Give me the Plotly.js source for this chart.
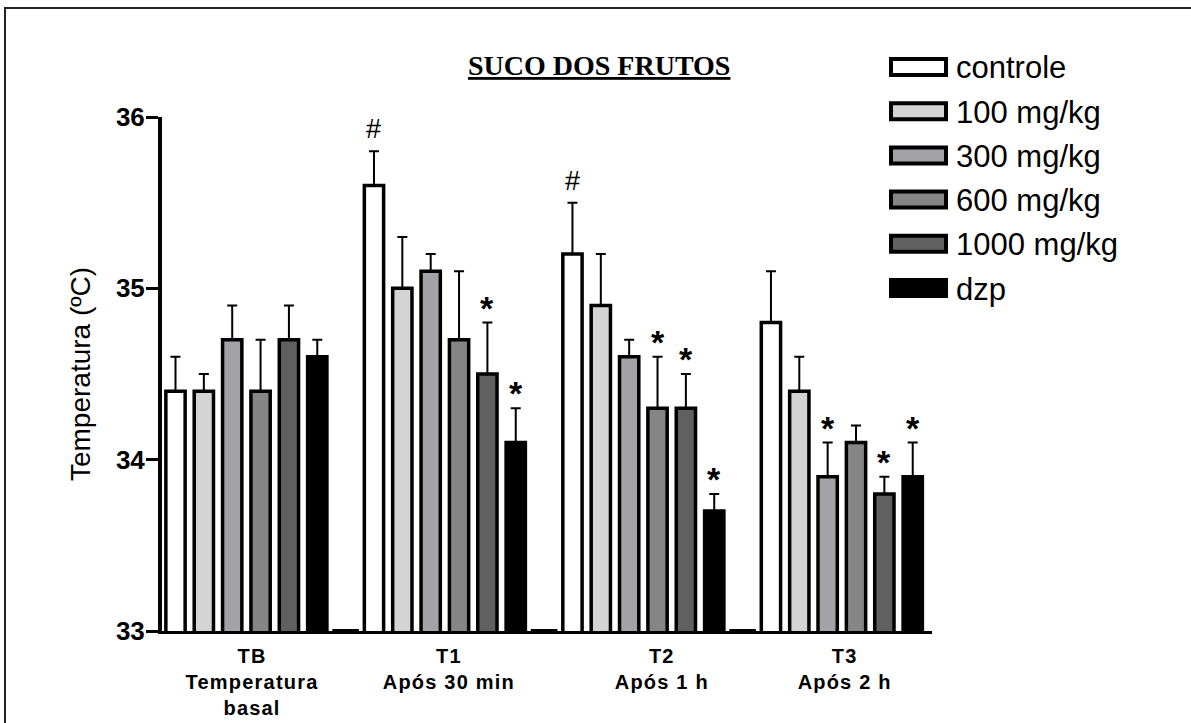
<!DOCTYPE html>
<html><head><meta charset="utf-8">
<script src="https://cdn.plot.ly/plotly-3.0.1.min.js"></script>
<style>
html,body{margin:0;padding:0;background:#fff;overflow:hidden;width:1191px;height:723px;}
#chart{position:absolute;left:0;top:0;width:1191px;height:723px;}
#frame{position:absolute;left:4px;top:7px;width:1300px;height:900px;border:2px solid #222;pointer-events:none;}
#chart .xtick text{letter-spacing:1.2px;}
</style></head><body>
<div id="chart"></div><div id="frame"></div>
<script>
// ---- data ----
const groups = ['TB<br>Temperatura<br>basal', 'T1<br>Após 30 min', 'T2<br>Após 1 h', 'T3<br>Após 2 h'];
const seriesNames = ['controle', '100 mg/kg', '300 mg/kg', '600 mg/kg', '1000 mg/kg', 'dzp'];
const seriesColors = ['#ffffff', '#d4d4d4', '#a2a2a7', '#858585', '#606060', '#000000'];

const controle = [34.4, 35.6, 35.2, 34.8];
const dose100  = [34.4, 35.0, 34.9, 34.4];
const dose300  = [34.7, 35.1, 34.6, 33.9];
const dose600  = [34.4, 34.7, 34.3, 34.1];
const dose1000 = [34.7, 34.5, 34.3, 33.8];
const dzp      = [34.6, 34.1, 33.7, 33.9];

const errControle = [0.2, 0.2, 0.3, 0.3];
const err100      = [0.1, 0.3, 0.3, 0.2];
const err300      = [0.2, 0.1, 0.1, 0.2];
const err600      = [0.3, 0.4, 0.3, 0.1];
const err1000     = [0.2, 0.3, 0.2, 0.1];
const errDzp      = [0.1, 0.2, 0.1, 0.2];

const markControle = ['', '#', '#', ''];
const mark100      = ['', '', '', ''];
const mark300      = ['', '', '', '*'];
const mark600      = ['', '', '*', ''];
const mark1000     = ['', '*', '*', '*'];
const markDzp      = ['', '*', '*', '*'];

const yTicks = [33, 34, 35, 36];
const titleText = 'SUCO DOS FRUTOS';
const yTitle = 'Temperatura (ºC)';

// ---- build ----
const values = [controle, dose100, dose300, dose600, dose1000, dzp];
const errs = [errControle, err100, err300, err600, err1000, errDzp];
const marks = [markControle, mark100, mark300, mark600, mark1000, markDzp];
const slots = seriesNames.length + 1;

const traces = values.map((v, s) => ({
  type: 'bar',
  name: seriesNames[s],
  x: groups.map((g, i) => i * slots + s),
  y: v,
  width: 0.68,
  marker: {color: seriesColors[s], line: {color: '#000', width: 3.5}},
  error_y: {type: 'data', symmetric: false, array: errs[s], arrayminus: v.map(() => 0),
            color: '#000', thickness: 2, width: 5},
  showlegend: false,
  hoverinfo: 'name+y'
}));

// empty slot markers at baseline between groups
traces.push({
  type: 'scatter', mode: 'markers',
  x: groups.slice(0, groups.length - 1).map((g, i) => i * slots + seriesNames.length),
  y: groups.slice(0, groups.length - 1).map(() => yTicks[0]),
  marker: {symbol: 'line-ew', size: 19, line: {color: '#000', width: 4}},
  cliponaxis: false, showlegend: false, hoverinfo: 'skip'
});

// plot geometry (px)
const W = 1191, H = 723;
const M = {l: 162, r: 259, t: 117, b: 92};
const PW = W - M.l - M.r, PH = H - M.t - M.b;
const px2x = px => (px - M.l) / PW;
const px2y = py => (H - M.b - py) / PH;

const annotations = [];
marks.forEach((mk, s) => mk.forEach((m, i) => {
  if (!m) return;
  annotations.push({
    x: i * slots + s, y: values[s][i] + errs[s][i], xref: 'x', yref: 'y',
    text: m === '*' ? '<b>*</b>' : m, showarrow: false, yanchor: 'bottom',
    yshift: m === '#' ? 5 : -6,
    font: {family: 'Liberation Sans, Arial, sans-serif', size: m === '#' ? 27 : 34, color: '#000'}
  });
}));

// custom legend
const shapes = [];
const legTop = 67, legStep = 44.2;
seriesNames.forEach((n, s) => {
  const cy = legTop + s * legStep;
  shapes.push({type: 'rect', xref: 'paper', yref: 'paper',
    x0: px2x(891), x1: px2x(946), y0: px2y(cy - 8), y1: px2y(cy + 8),
    fillcolor: seriesColors[s], line: {color: '#000', width: 4}});
  annotations.push({xref: 'paper', yref: 'paper', x: px2x(954), y: px2y(cy + 1),
    xanchor: 'left', yanchor: 'middle', showarrow: false, text: n,
    font: {family: 'Liberation Sans, Arial, sans-serif', size: 31, color: '#000'}});
});

// title (underlined, serif bold)
annotations.push({xref: 'paper', yref: 'paper', x: px2x(598.5), y: px2y(66),
  xanchor: 'center', yanchor: 'middle', showarrow: false,
  text: '<b><u>' + titleText + '</u></b>',
  font: {family: 'Liberation Serif, Times New Roman, serif', size: 28, color: '#000'}});

const layout = {
  width: W, height: H,
  margin: M,
  paper_bgcolor: '#fff', plot_bgcolor: '#fff',
  showlegend: false,
  bargap: 0,
  xaxis: {
    range: [-0.476, 26.68],
    tickvals: groups.map((g, i) => i * slots + (seriesNames.length - 1) / 2 + [0.2, 0.14, 0.65, 0.1][i]),
    ticktext: groups,
    ticks: '', showgrid: false, zeroline: false,
    showline: true, linecolor: '#000', linewidth: 3,
    tickfont: {family: 'Liberation Sans, Arial, sans-serif', size: 20, color: '#000', weight: 'bold'},
    ticklabelstandoff: 5,
    fixedrange: true
  },
  yaxis: {
    range: [33, 36],
    tickvals: yTicks, ticktext: yTicks.map(String),
    ticks: 'outside', ticklen: 12, tickwidth: 3, tickcolor: '#000',
    showgrid: false, zeroline: false,
    showline: true, linecolor: '#000', linewidth: 4,
    tickfont: {family: 'Liberation Sans, Arial, sans-serif', size: 26, color: '#000', weight: 'bold'},
    ticklabelstandoff: -4,
    title: {text: yTitle, font: {family: 'Liberation Sans, Arial, sans-serif', size: 28, color: '#000'}, standoff: 18},
    fixedrange: true
  },
  annotations: annotations,
  shapes: shapes
};

Plotly.newPlot('chart', traces, layout, {displayModeBar: false, staticPlot: true});
</script>
</body></html>
